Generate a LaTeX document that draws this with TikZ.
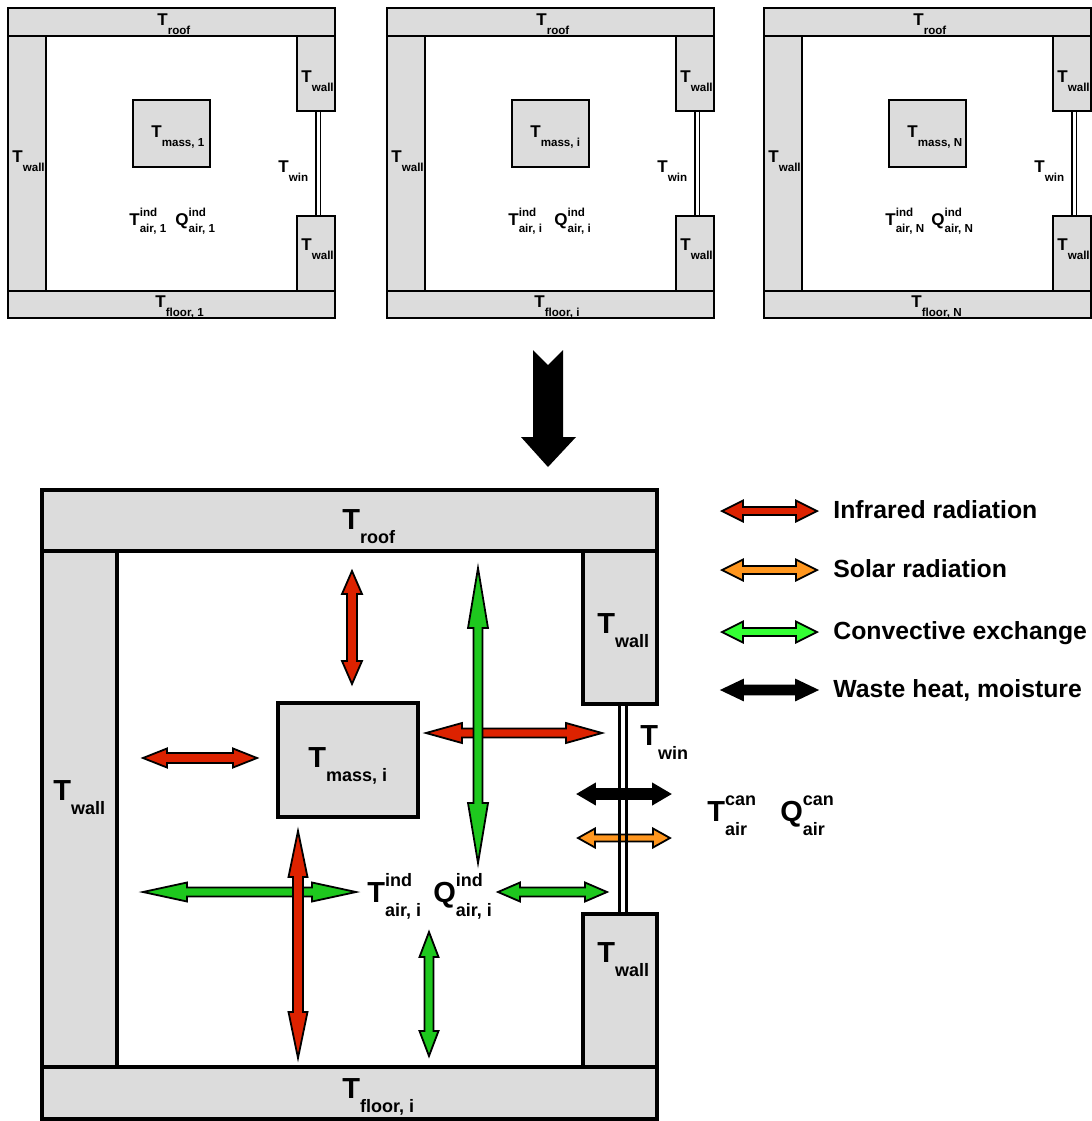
\documentclass[tikz,border=0pt]{standalone}
\usepackage{fontspec}
\setmainfont{Liberation Sans}
\definecolor{wallgray}{RGB}{220,220,220}
\definecolor{irred}{RGB}{221,34,0}
\definecolor{solarorange}{RGB}{255,150,30}
\definecolor{convlegend}{RGB}{51,255,51}
\definecolor{convroom}{RGB}{30,200,30}
% big labels
\newcommand{\bsub}[2]{{\fontsize{14.5}{15}\selectfont #1}\raisebox{-7pt}{\fontsize{9}{10}\selectfont #2}}
\newcommand{\bsubsup}[3]{{\fontsize{14.5}{15}\selectfont #1}\rlap{\raisebox{8pt}{\fontsize{9}{10}\selectfont #3}}\raisebox{-7pt}{\fontsize{9}{10}\selectfont #2}}
% small labels
\newcommand{\ssub}[2]{{\fontsize{8.5}{9}\selectfont #1}\raisebox{-4.8pt}{\fontsize{5.8}{6}\selectfont #2}}
\newcommand{\ssubsup}[3]{{\fontsize{8.5}{9}\selectfont #1}\rlap{\raisebox{4.5pt}{\fontsize{5.8}{6}\selectfont #3}}\raisebox{-3.8pt}{\fontsize{5.8}{6}\selectfont #2}}
% double-headed block arrows: horizontal {xl}{xr}{y}{head length}{head width}{shaft width}{colour}
\newcommand{\harr}[7]{\filldraw[arrowline, fill=#7] (#1,#3) -- ({#1+#4},{#3-#5/2}) -- ({#1+#4},{#3-#6/2}) -- ({#2-#4},{#3-#6/2}) -- ({#2-#4},{#3-#5/2}) -- (#2,#3) -- ({#2-#4},{#3+#5/2}) -- ({#2-#4},{#3+#6/2}) -- ({#1+#4},{#3+#6/2}) -- ({#1+#4},{#3+#5/2}) -- cycle;}
% vertical {x}{yt}{yb}{head length}{head width}{shaft width}{colour}
\newcommand{\varr}[7]{\filldraw[arrowline, fill=#7] (#1,#2) -- ({#1-#5/2},{#2+#4}) -- ({#1-#6/2},{#2+#4}) -- ({#1-#6/2},{#3-#4}) -- ({#1-#5/2},{#3-#4}) -- (#1,#3) -- ({#1+#5/2},{#3-#4}) -- ({#1+#6/2},{#3-#4}) -- ({#1+#6/2},{#2+#4}) -- ({#1+#5/2},{#2+#4}) -- cycle;}
% small room
\newcommand{\smallroom}[3]{%
\begin{scope}[shift={(#1,0)}]
\filldraw[sthin] (0,8) rectangle (327,36);
\filldraw[sthin] (0,291) rectangle (327,318);
\filldraw[sthin] (0,36) rectangle (38,291);
\filldraw[sthin] (289,36) rectangle (327,111);
\filldraw[sthin] (289,216) rectangle (327,291);
\filldraw[sthin] (125,100) rectangle (202,167);
\draw[swin] (308,111) -- (308,216) (312.5,111) -- (312.5,216);
\node[lbl] (#3roof) at (149,25) {\ssub{T}{roof}};
\node[lbl] (#3floor) at (147,307) {\ssub{T}{floor, #2}};
\node[lbl] (#3wallL) at (4,162) {\ssub{T}{wall}};
\node[lbl] (#3wallT) at (293,82) {\ssub{T}{wall}};
\node[lbl] (#3wallB) at (293,250) {\ssub{T}{wall}};
\node[lbl] (#3mass) at (143,137) {\ssub{T}{mass, #2}};
\node[lbl] (#3win) at (270,172) {\ssub{T}{win}};
\node[lbl] (#3tair) at (121,225) {\ssubsup{T}{air, #2}{ind}};
\node[lbl] (#3qair) at (167,225) {\ssubsup{Q}{air, #2}{ind}};
\end{scope}}
\begin{document}
\begin{tikzpicture}[x=0.5pt,y=-0.5pt,
  sthin/.style={draw=black, fill=wallgray, line width=0.8pt},
  swin/.style={draw=black, line width=0.6pt},
  bthick/.style={draw=black, fill=wallgray, line width=2pt, line join=miter},
  bwin/.style={draw=black, line width=1.5pt},
  arrowline/.style={draw=black, line width=0.9pt, line join=miter},
  lbl/.style={anchor=base west, inner sep=0pt, font=\bfseries},
  legtext/.style={anchor=base west, inner sep=0pt, font=\fontsize{12.4}{14}\selectfont\bfseries}]
\useasboundingbox (0,0) rectangle (1092,1121);
\fill[white] (0,0) rectangle (1092,1121);

% three small rooms
\smallroom{8}{1}{ra}
\smallroom{387}{i}{rb}
\smallroom{764}{N}{rc}

% big downward arrow
\fill[black] (533,350) -- (548,365) -- (563,350) -- (563,437) -- (576,437) -- (548,467) -- (521,437) -- (533,437) -- cycle;

% big room
\filldraw[bthick] (42,490) rectangle (657,551);
\filldraw[bthick] (42,1067) rectangle (657,1119);
\filldraw[bthick] (42,551) rectangle (117,1067);
\filldraw[bthick] (583,551) rectangle (657,704);
\filldraw[bthick] (583,914) rectangle (657,1067);
\filldraw[bthick] (278,703) rectangle (418,817);

% arrows inside big room
\varr{352}{571}{684}{23}{20}{10}{irred}
\harr{426}{602}{733}{36}{20}{9}{irred}
\varr{478}{568}{863}{60}{20}{9}{convroom}
\harr{143}{257}{758}{24}{19}{10}{irred}
\harr{143}{356}{892}{44}{19}{9}{convroom}
\varr{298}{831}{1058}{46}{19}{10}{irred}
\harr{498}{607}{892}{22}{19}{9}{convroom}
\varr{429}{932}{1056}{25}{19}{9}{convroom}
\harr{578}{670}{794}{17}{20}{10}{black}
\harr{578}{670}{838}{17}{19}{7}{solarorange}

% window
\draw[bwin] (619.5,704) -- (619.5,914) (626.5,704) -- (626.5,914);

% big labels
\node[lbl] (broof) at (342,529) {\bsub{T}{roof}};
\node[lbl] (bfloor) at (342,1098) {\bsub{T}{floor, i}};
\node[lbl] (bwallL) at (53,800) {\bsub{T}{wall}};
\node[lbl] (bwallT) at (597,633) {\bsub{T}{wall}};
\node[lbl] (bwallB) at (597,962) {\bsub{T}{wall}};
\node[lbl] (bmass) at (308,767) {\bsub{T}{mass, i}};
\node[lbl] (bwin) at (640,745) {\bsub{T}{win}};
\node[lbl] (btair) at (367,902) {\bsubsup{T}{air, i}{ind}};
\node[lbl] (bqair) at (433,902) {\bsubsup{Q}{air, i}{ind}};
\node[lbl] (ctair) at (707,821) {\bsubsup{T}{air}{can}};
\node[lbl] (cqair) at (780,821) {\bsubsup{Q}{air}{can}};

% legend
\harr{722}{817}{511}{21}{21}{8}{irred}
\harr{722}{817}{570}{21}{21}{8}{solarorange}
\harr{722}{817}{632}{21}{21}{8}{convlegend}
\harr{722}{817}{690}{21}{20}{9}{black}
\node[legtext] (l1) at (833,518) {Infrared radiation};
\node[legtext] (l2) at (833,577) {Solar radiation};
\node[legtext] (l3) at (833,639) {Convective exchange};
\node[legtext] (l4) at (833,697) {Waste heat, moisture};
\end{tikzpicture}
\end{document}
